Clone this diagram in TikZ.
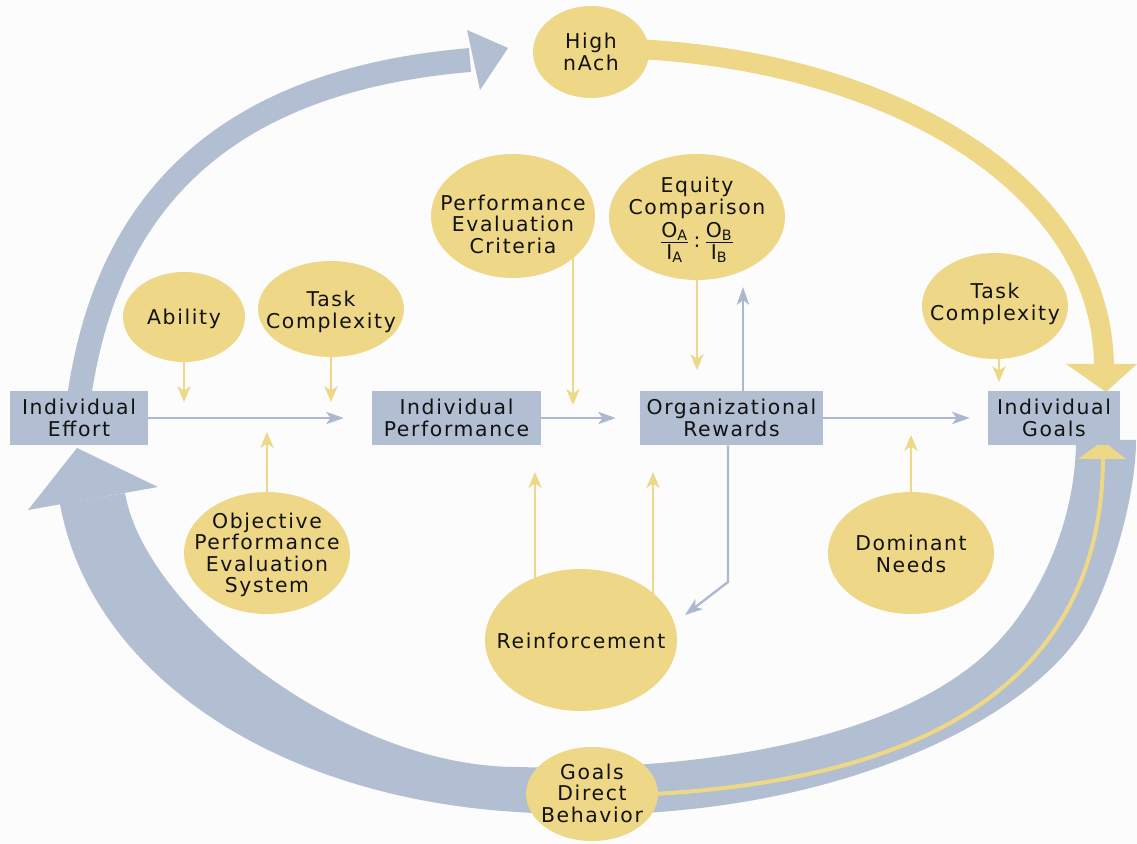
\documentclass[tikz,border=0pt]{standalone}
\usepackage{amsmath}
\usepackage{fontspec}
\setmainfont{DejaVu Sans}[LetterSpace=8.0]
\usetikzlibrary{shapes.geometric,arrows.meta}
\pgfdeclarelayer{bg}
\pgfdeclarelayer{mid}
\pgfsetlayers{bg,mid,main}
\definecolor{band}{RGB}{178,190,209}
\definecolor{yel}{RGB}{238,216,135}
\definecolor{bl}{RGB}{172,184,206}
\definecolor{ink}{RGB}{18,18,18}
\definecolor{paper}{RGB}{252,252,252}
\newcommand\dgfont{\fontsize{11.6}{12.2}\selectfont}
\newcommand\eqfr[2]{\genfrac{}{}{0.8pt}{1}{\mbox{#1}}{\mbox{#2}}}
\tikzset{
  gbox/.style={rectangle, fill=band, minimum height=1.08cm, inner sep=0pt, align=center, text=ink, font=\dgfont},
  bub/.style={ellipse, fill=yel, inner sep=0pt},
  lbl/.style={align=center, text=ink, font=\dgfont, inner sep=0pt},
  thinY/.style={draw=yel, line width=1.5pt, -{Stealth[length=9pt,width=7.5pt,inset=2.5pt]}},
  thinB/.style={draw=bl, line width=1.3pt, -{Stealth[length=10pt,width=7pt,inset=2.5pt]}},
}
\begin{document}
\begin{tikzpicture}[x=0.02cm,y=-0.02cm]
\useasboundingbox (0,0) rectangle (1137,844);

% ---------- boxes ----------
\node[gbox, minimum width=2.76cm] (effort)  at (79,418)    {Individual\\Effort};
\node[gbox, minimum width=3.38cm] (perf)    at (456.5,418) {Individual\\Performance};
\node[gbox, minimum width=3.66cm] (rewards) at (731.5,418) {Organizational\\Rewards};
\node[gbox, minimum width=2.64cm] (goals)   at (1054,418)  {Individual\\Goals};

% ---------- bubbles ----------
\node[bub, minimum width=2.32cm, minimum height=1.84cm] (hnach)   at (591,52)  {};
\node[bub, minimum width=2.44cm, minimum height=1.80cm] (ability) at (184,317) {};
\node[bub, minimum width=2.92cm, minimum height=1.92cm] (taskL)   at (331,309) {};
\node[bub, minimum width=3.28cm, minimum height=2.48cm] (pec)     at (513,216) {};
\node[bub, minimum width=3.52cm, minimum height=2.52cm] (equity)  at (697,217) {};
\node[bub, minimum width=2.92cm, minimum height=2.12cm] (taskR)   at (995,306) {};
\node[bub, minimum width=3.32cm, minimum height=2.44cm] (ope)     at (267,553) {};
\node[bub, minimum width=3.84cm, minimum height=2.84cm] (reinf)   at (581,640) {};
\node[bub, minimum width=3.32cm, minimum height=2.44cm] (dom)     at (911,553) {};
\node[bub, minimum width=2.64cm, minimum height=1.88cm] (gdb)     at (592,794) {};

% ---------- bubble texts ----------
\node[lbl] (hnach-t)   at (591,52)  {High\\nAch};
\node[lbl] (ability-t) at (184,319) {Ability};
\node[lbl] (taskL-t)   at (331,312) {Task\\Complexity};
\node[lbl] (pec-t)     at (513,224) {Performance\\Evaluation\\Criteria};
\node[lbl] (equity-t)  at (697,220) {Equity\\Comparison\\[1pt]
  $\eqfr{O\textsubscript{A}}{I\textsubscript{A}}\mbox{\,:\,}\eqfr{O\textsubscript{B}}{I\textsubscript{B}}$};
\node[lbl] (taskR-t)   at (995,304) {Task\\Complexity};
\node[lbl] (ope-t)     at (267,555) {Objective\\Performance\\Evaluation\\System};
\node[lbl] (reinf-t)   at (581,641) {Reinforcement};
\node[lbl] (dom-t)     at (911,554) {Dominant\\Needs};
\node[lbl] (gdb-t)     at (592,793) {Goals\\Direct\\Behavior};

% ---------- free ends ----------
\coordinate (tAb)   at (184,402);
\coordinate (tTL)   at (331,402);
\coordinate (tOpe)  at (267,432);
\coordinate (tPec)  at (573,405);
\coordinate (tEq)   at (697,370);
\coordinate (tRE)   at (743,287);
\coordinate (tR1)   at (535,472);
\coordinate (tR2)   at (653,472);
\coordinate (cBend) at (728,582);
\coordinate (tRein) at (685,615);
\coordinate (tDom)  at (911,435);
\coordinate (tTR)   at (999,382);

% ---------- thin connectors ----------
\begin{pgfonlayer}{mid}
\draw[thinB, shorten >=15.9pt] (effort) -- (perf);
\draw[thinB, shorten >=13.6pt] (perf) -- (rewards);
\draw[thinB, shorten >=10.2pt] (rewards) -- (goals);
\draw[thinB] (rewards.north -| tRE) -- (tRE);
\draw[thinB] (rewards.south -| cBend) -- (cBend) -- (tRein);

\draw[thinY] (ability) -- (tAb);
\draw[thinY] (taskL) -- (tTL);
\draw[thinY] (ope) -- (tOpe);
\draw[thinY] (pec.center -| tPec) -- (tPec);
\draw[thinY] (equity) -- (tEq);
\draw[thinY] (reinf.center -| tR1) -- (tR1);
\draw[thinY] (reinf.center -| tR2) -- (tR2);
\draw[thinY] (dom) -- (tDom);
\draw[thinY] (taskR.center -| tTR) -- (tTR);
\end{pgfonlayer}

% ---------- big arrows ----------
\begin{pgfonlayer}{bg}
\fill[paper] (0,0) rectangle (1137,844);
% lower blue loop: Individual Goals -> Goals Direct Behavior -> Individual Effort
\fill[band] (60,504) .. controls (90,670) and (270,797) .. (517,812)
  .. controls (800,832) and (1020,730) .. (1083,630)
  .. controls (1108,590) and (1136,500) .. (1136,440)
  -- (1076,440) .. controls (1076,520) and (1040,600) .. (993,647)
  .. controls (900,740) and (700,772) .. (517,767)
  .. controls (345,767) and (145,610) .. (125,493) -- cycle;
\fill[band] (28,510) -- (77,448) -- (158,487) -- cycle;
% yellow line inside the lower loop
\draw[yel, line width=2.3pt] (600,796) .. controls (930,790) and (1103,680) .. (1103,456);
\fill[yel] (1078,459) -- (1103,441) -- (1126,459) -- cycle;
% upper blue arrow: Individual Effort -> High nAch
\draw[band, line width=13.6pt] (79,398) .. controls (105,215) and (210,82) .. (470,60);
\fill[band] (467,30) -- (508,48) -- (480,90) -- cycle;
% upper yellow arrow: High nAch -> Individual Goals
\draw[yel, line width=11.3pt] (600,48) .. controls (870,50) and (1102,175) .. (1104,366);
\fill[yel] (1066,364) -- (1137,364) -- (1106,392) -- cycle;
\end{pgfonlayer}
\end{tikzpicture}
\end{document}
